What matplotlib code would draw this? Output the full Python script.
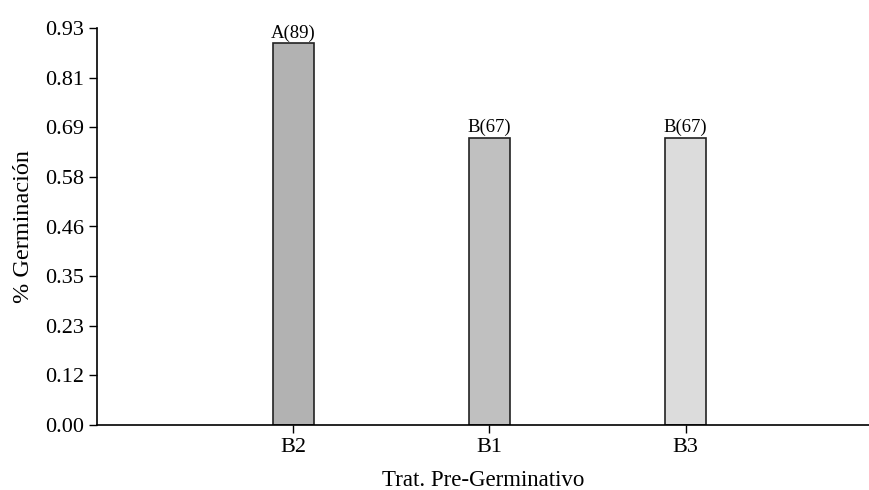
import numpy as np
import matplotlib.pyplot as plt

# datos
tratamientos = ['B2', 'B1', 'B3']
germinacion = [0.89, 0.67, 0.67]
etiquetas = ['A(89)', 'B(67)', 'B(67)']
colores = ['#b2b2b2', '#c0c0c0', '#dcdcdc']
y_max = 0.9255
y_labels = ['0.00', '0.12', '0.23', '0.35', '0.46', '0.58', '0.69', '0.81', '0.93']

plt.rcParams['font.family'] = ['Liberation Serif', 'DejaVu Serif']

fig = plt.figure(figsize=(8.7, 4.9), dpi=100)
ax = fig.add_axes([97 / 870, 65 / 490, 773 / 870, 397 / 490])

x = np.arange(len(tratamientos))
bars = ax.bar(x, germinacion, width=0.21, color=colores,
              edgecolor='#222222', linewidth=1.2, zorder=2)

for b, lab in zip(bars, etiquetas):
    ax.text(b.get_x() + b.get_width() / 2, b.get_height() + 0.004, lab,
            ha='center', va='bottom', fontsize=13.5)

ax.set_xlim(-1, 2.94)
ax.set_ylim(0, y_max)
ax.set_yticks(np.linspace(0, y_max, len(y_labels)))
ax.set_yticklabels(y_labels)
ax.set_xticks(x)
ax.set_xticklabels(tratamientos)
ax.tick_params(axis='both', labelsize=16, length=6, width=1, direction='out')
ax.tick_params(axis='x', pad=3.5)

for s in ['top', 'right']:
    ax.spines[s].set_visible(False)
for s in ['left', 'bottom']:
    ax.spines[s].set_linewidth(1.2)

ax.set_xlabel('Trat. Pre-Germinativo', fontsize=16.5, labelpad=9)
ax.set_ylabel('% Germinación', fontsize=17.5, labelpad=8)

fig.savefig('out.png', dpi=100)
